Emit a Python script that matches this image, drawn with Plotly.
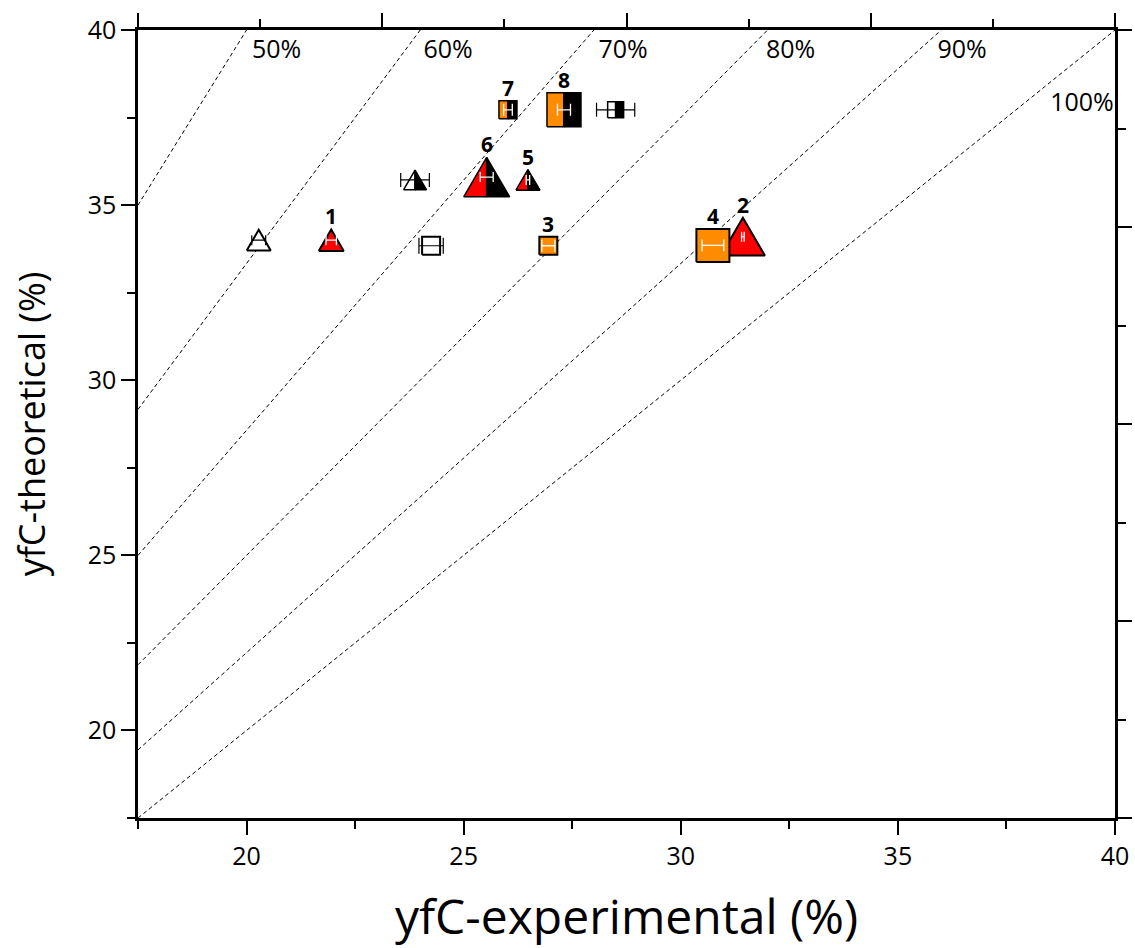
import plotly.graph_objects as go

# ---------------- data ----------------
# full red triangles (points 1, 2)
red_tri_lab = ["1", "2"]
red_tri_x = [21.95, 31.43]
red_tri_y = [34.0, 34.1]
red_tri_err = [0.12, 0.03]

# full orange squares (points 3, 4)
org_sq_lab = ["3", "4"]
org_sq_x = [26.95, 30.74]
org_sq_y = [33.84, 33.85]
org_sq_err = [0.15, 0.25]

# half red / black triangles (points 5, 6)
half_tri_lab = ["5", "6"]
half_tri_x = [26.48, 25.53]
half_tri_y = [35.72, 35.8]
half_tri_err = [0.04, 0.15]

# half orange / black squares (points 7, 8)
half_sq_lab = ["7", "8"]
half_sq_x = [26.02, 27.31]
half_sq_y = [37.72, 37.72]
half_sq_err = [0.1, 0.15]

# open (reference) symbols
open_tri_x = [20.28]
open_tri_y = [34.0]
open_tri_err = [0.16]

open_sq_x = [24.25]
open_sq_y = [33.84]
open_sq_err = [0.28]

open_half_tri_x = [23.88]
open_half_tri_y = [35.72]
open_half_tri_err = [0.33]

open_half_sq_x = [28.5]
open_half_sq_y = [37.72]
open_half_sq_err = [0.44]

# efficiency reference lines
efficiencies = [0.5, 0.6, 0.7, 0.8, 0.9, 1.0]
eff_labels = ["50%", "60%", "70%", "80%", "90%", "100%"]
eff_label_x = [20.69, 24.64, 28.67, 32.53, 36.48, 39.24]
eff_label_y = [39.37, 39.37, 39.37, 39.37, 39.37, 37.88]

x_ticks = [20, 25, 30, 35, 40]
y_ticks = [20, 25, 30, 35, 40]

# ---------------- geometry helpers ----------------
XR = [17.5, 40.0]
YR = [17.5, 40.0]
PLOT_W = 977.0
PLOT_H = 788.0
SX = (XR[1] - XR[0]) / PLOT_W   # data units per pixel (x)
SY = (YR[1] - YR[0]) / PLOT_H   # data units per pixel (y)

RED = "#ff0000"
ORANGE = "#ff8c00"
BLACK = "#000000"
WHITE = "#ffffff"

fig = go.Figure()

def poly(xs, ys, fillc, lw=1.5):
    fig.add_trace(go.Scatter(x=xs + [xs[0]], y=ys + [ys[0]], mode="lines",
                             fill="toself", fillcolor=fillc,
                             line=dict(color=BLACK, width=lw),
                             hoverinfo="skip", showlegend=False))

def tri_pts(cx, cy, wpx):
    hpx = 0.86 * wpx
    hw = wpx / 2 * SX
    hh = hpx / 2 * SY
    return cx, cy, hw, hh

def full_tri(cx, cy, wpx, col):
    cx, cy, hw, hh = tri_pts(cx, cy, wpx)
    poly([cx - hw, cx + hw, cx], [cy - hh, cy - hh, cy + hh], col, 2)

def half_tri(cx, cy, wpx, left_col, right_col):
    cx, cy, hw, hh = tri_pts(cx, cy, wpx)
    poly([cx - hw, cx, cx], [cy - hh, cy - hh, cy + hh], left_col)
    poly([cx, cx + hw, cx], [cy - hh, cy - hh, cy + hh], right_col)

def full_sq(cx, cy, spx, col):
    hw = spx / 2 * SX
    hh = spx / 2 * SY
    poly([cx - hw, cx + hw, cx + hw, cx - hw], [cy - hh, cy - hh, cy + hh, cy + hh], col, 2)

def half_sq(cx, cy, spx, left_col, right_col):
    hw = spx / 2 * SX
    hh = spx / 2 * SY
    poly([cx - hw, cx, cx, cx - hw], [cy - hh, cy - hh, cy + hh, cy + hh], left_col)
    poly([cx, cx + hw, cx + hw, cx], [cy - hh, cy - hh, cy + hh, cy + hh], right_col)

# ---------------- efficiency lines ----------------
for p in efficiencies:
    fig.add_trace(go.Scatter(x=[XR[0], YR[1] * p], y=[XR[0] / p, YR[1]], mode="lines",
                             line=dict(color=BLACK, width=1, dash="4px,3px"),
                             hoverinfo="skip", showlegend=False))

fig.add_trace(go.Scatter(x=eff_label_x, y=eff_label_y, mode="text", text=eff_labels,
                         textfont=dict(family="Open Sans", size=25, color=BLACK),
                         hoverinfo="skip", showlegend=False))

# ---------------- symbols ----------------
red_tri_size = [25, 44]
org_sq_size = [18, 33]
half_tri_size = [24, 46]
half_sq_size = [18, 34]

for x, y, s in zip(red_tri_x, red_tri_y, red_tri_size):
    full_tri(x, y, s, RED)
for x, y, s in zip(org_sq_x, org_sq_y, org_sq_size):
    full_sq(x, y, s, ORANGE)
for x, y, s in zip(half_tri_x, half_tri_y, half_tri_size):
    half_tri(x, y, s, RED, BLACK)
for x, y, s in zip(half_sq_x, half_sq_y, half_sq_size):
    half_sq(x, y, s, ORANGE, BLACK)

for x, y in zip(open_tri_x, open_tri_y):
    full_tri(x, y, 24, WHITE)
for x, y in zip(open_sq_x, open_sq_y):
    full_sq(x, y, 18, WHITE)
for x, y in zip(open_half_tri_x, open_half_tri_y):
    half_tri(x, y, 23, WHITE, BLACK)
for x, y in zip(open_half_sq_x, open_half_sq_y):
    half_sq(x, y, 16, WHITE, BLACK)

# ---------------- error bars ----------------
def errs(xs, ys, es, col, capw, thick):
    fig.add_trace(go.Scatter(x=xs, y=ys, mode="markers",
                             marker=dict(size=1, color="rgba(0,0,0,0)", line=dict(width=0)),
                             error_x=dict(type="data", array=es, color=col,
                                          thickness=thick, width=capw),
                             hoverinfo="skip", showlegend=False))

errs(red_tri_x, red_tri_y, red_tri_err, WHITE, 5, 1.3)
errs(org_sq_x, org_sq_y, org_sq_err, WHITE, 6, 1.3)
errs(half_tri_x, half_tri_y, half_tri_err, WHITE, 5, 1.3)
errs(half_sq_x, half_sq_y, half_sq_err, WHITE, 6, 1.3)
errs(open_tri_x, open_tri_y, open_tri_err, BLACK, 5, 1.2)
errs(open_sq_x, open_sq_y, open_sq_err, BLACK, 8, 1.2)
errs(open_half_tri_x, open_half_tri_y, open_half_tri_err, BLACK, 7, 1.2)
errs(open_half_sq_x, open_half_sq_y, open_half_sq_err, BLACK, 7, 1.2)

# ---------------- number labels (annotations anchored on the data points) ----------------
lab_x = red_tri_x + org_sq_x + half_tri_x + half_sq_x
lab_y = red_tri_y + org_sq_y + half_tri_y + half_sq_y
lab_t = red_tri_lab + org_sq_lab + half_tri_lab + half_sq_lab
lab_h = [0.86 * s for s in red_tri_size] + org_sq_size + [0.86 * s for s in half_tri_size] + half_sq_size
for x, y, t, h in zip(lab_x, lab_y, lab_t, lab_h):
    fig.add_annotation(x=x, y=y, xref="x", yref="y", text=t, showarrow=False,
                       yanchor="bottom", yshift=h / 2 - 3,
                       font=dict(family="Open Sans", size=21, color=BLACK, weight="bold"))

# invisible trace on secondary axes so they render
fig.add_trace(go.Scatter(x=[0, 4], y=[0, 4], xaxis="x2", yaxis="y2", mode="markers",
                         marker=dict(size=1, color="rgba(0,0,0,0)", line=dict(width=0)),
                         hoverinfo="skip", showlegend=False))

axis_common = dict(showgrid=False, zeroline=False, showline=True, linecolor=BLACK,
                   linewidth=2.5, ticks="outside", tickcolor=BLACK, tickwidth=2.2,
                   ticklen=14, automargin=False)

fig.update_layout(
    width=1135, height=948,
    margin=dict(l=138, r=20, t=30, b=130),
    paper_bgcolor="white", plot_bgcolor="white",
    font=dict(family="Open Sans", color=BLACK),
    xaxis=dict(range=XR, tickvals=x_ticks, tickfont=dict(size=25),
               minor=dict(dtick=2.5, ticklen=8, tickwidth=2.2, tickcolor=BLACK, ticks="outside"),
               title=dict(text="yfC-experimental (%)", font=dict(size=48), standoff=46),
               **axis_common),
    yaxis=dict(range=YR, tickvals=y_ticks, tickfont=dict(size=25),
               minor=dict(dtick=2.5, ticklen=8, tickwidth=2.2, tickcolor=BLACK, ticks="outside"),
               title=dict(text="yfC-theoretical (%)", font=dict(size=36), standoff=32),
               **axis_common),
    xaxis2=dict(overlaying="x", side="top", range=[0, 4], dtick=1, showticklabels=False,
                minor=dict(dtick=0.5, ticklen=8, tickwidth=2.2, tickcolor=BLACK, ticks="outside"),
                **axis_common),
    yaxis2=dict(overlaying="y", side="right", range=[0, 4], dtick=1, showticklabels=False,
                minor=dict(dtick=0.5, ticklen=8, tickwidth=2.2, tickcolor=BLACK, ticks="outside"),
                **axis_common),
)

fig.write_html("out.html", config={"displayModeBar": False},
               post_script="document.body.style.margin='0';document.body.style.overflow='hidden';")
